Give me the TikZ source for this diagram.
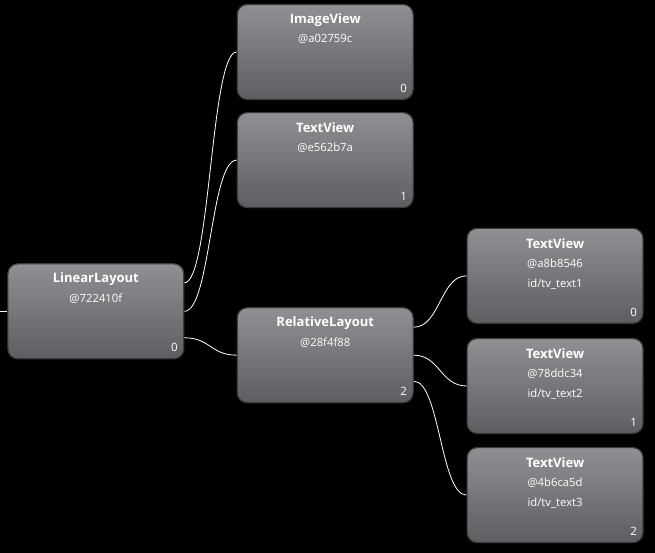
\documentclass[tikz,border=0pt]{standalone}
\usepackage{fontspec}
\setmainfont{Open Sans}
\usetikzlibrary{positioning,calc}
\definecolor{boxtop}{HTML}{8E9093}
\definecolor{boxbot}{HTML}{5C5E61}
\definecolor{boxline}{HTML}{3A3B3D}
\begin{document}
\begin{tikzpicture}[
  x=1pt, y=1pt,
  view/.style={rectangle, rounded corners=10pt, draw=boxline, line width=1.2pt,
               top color=boxtop, bottom color=boxbot,
               minimum width=176pt, minimum height=95pt, inner sep=0pt},
  ttl/.style={anchor=center, yshift=-16pt, text=white,
              font=\fontsize{13}{15}\selectfont\bfseries},
  hash/.style={anchor=center, yshift=-35.5pt, text=white,
               font=\fontsize{11.3}{13}\selectfont},
  vid/.style={anchor=center, yshift=-56pt, text=white,
              font=\fontsize{11.3}{13}\selectfont},
  idx/.style={anchor=center, xshift=-10pt, yshift=12pt, text=white,
              font=\fontsize{11.5}{13}\selectfont},
  wire/.style={draw=white, line width=0.8pt},
]

\fill[black] (0,0) rectangle (655,-553);

% left column
\node[view, label={[ttl]north:LinearLayout}, label={[hash]north:@722410f},
      label={[idx]south east:0}] (ll) at (95.5,-311.5) {};
\coordinate (in) at (0,-311.5);

% middle column
\node[view, label={[ttl]north:ImageView}, label={[hash]north:@a02759c},
      label={[idx]south east:0}] (iv) at (325,-52) {};
\node[view, below=12pt of iv, label={[ttl]north:TextView}, label={[hash]north:@e562b7a},
      label={[idx]south east:1}] (tv) {};
\node[view, below=99pt of tv, label={[ttl]north:RelativeLayout}, label={[hash]north:@28f4f88},
      label={[idx]south east:2}] (rl) {};

% right column
\node[view, label={[ttl]north:TextView}, label={[hash]north:@a8b8546},
      label={[vid]north:id/tv\_text1}, label={[idx]south east:0}] (tva) at (555,-276) {};
\node[view, below=14pt of tva, label={[ttl]north:TextView}, label={[hash]north:@78ddc34},
      label={[vid]north:id/tv\_text2}, label={[idx]south east:1}] (tvb) {};
\node[view, below=13pt of tvb, label={[ttl]north:TextView}, label={[hash]north:@4b6ca5d},
      label={[vid]north:id/tv\_text3}, label={[idx]south east:2}] (tvc) {};

\draw[wire] (in) -- (ll.west);
\draw[wire] ($(ll.east)+(0,28.5)$) .. controls +(26,0) and +(-26,0) .. (iv.west);
\draw[wire] (ll.east) .. controls +(26,0) and +(-26,0) .. (tv.west);
\draw[wire] ($(ll.east)+(0,-26.5)$) .. controls +(26,0) and +(-26,0) .. (rl.west);
\draw[wire] ($(rl.east)+(0,28)$) .. controls +(26,0) and +(-26,0) .. (tva.west);
\draw[wire] (rl.east) .. controls +(26,0) and +(-26,0) .. (tvb.west);
\draw[wire] ($(rl.east)+(0,-26)$) .. controls +(26,0) and +(-26,0) .. (tvc.west);

\end{tikzpicture}
\end{document}
